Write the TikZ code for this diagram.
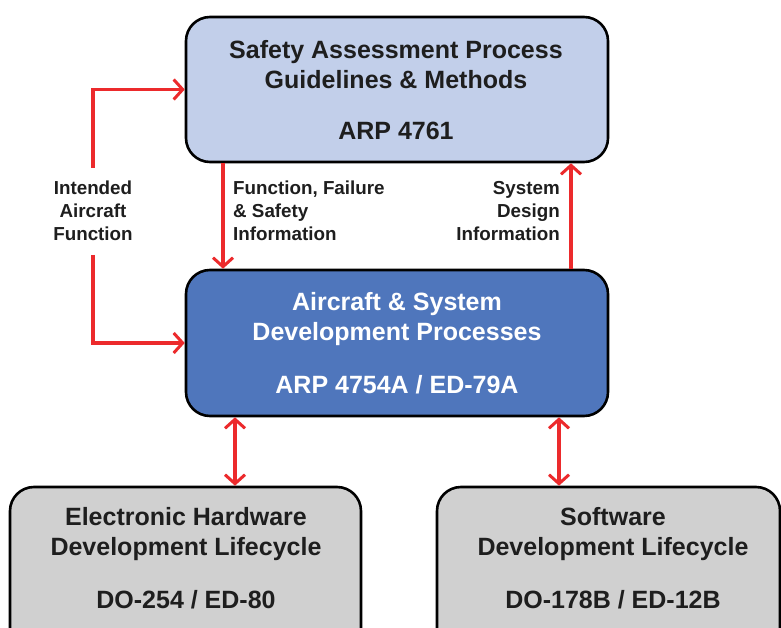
\documentclass[tikz,border=0pt]{standalone}
\usepackage{fontspec}
\setmainfont{Liberation Sans}
\usetikzlibrary{arrows.meta}
\definecolor{boxlight}{HTML}{C2CFEA}
\definecolor{boxdark}{HTML}{4F76BC}
\definecolor{boxgray}{HTML}{D0D0D0}
\definecolor{arrowred}{HTML}{EC2A2C}
\definecolor{textdark}{HTML}{1E1E1E}
\tikzset{
  procbox/.style={draw=black, line width=2.6pt, rounded corners=24pt, inner sep=0pt},
  boxtitle/.style={font=\fontsize{25}{30}\selectfont\bfseries, align=center, inner sep=0pt},
  boxcode/.style={font=\fontsize{25}{30}\selectfont\bfseries, inner sep=0pt},
  flowlabel/.style={font=\fontsize{18.8}{23}\selectfont\bfseries, text=textdark, inner sep=0pt},
  redtip/.tip={Straight Barb[length=9pt, width=20pt, line width=3pt]},
  redarrow/.style={draw=arrowred, line width=3.4pt, -redtip},
  redboth/.style={draw=arrowred, line width=3.4pt, redtip-redtip},
}
\begin{document}
\begin{tikzpicture}[x=1pt, y=-1pt]
\useasboundingbox (0,0) rectangle (781,628);
\clip (0,0) rectangle (781,628);
\fill[white] (0,0) rectangle (781,628);
% boxes
\node[procbox, fill=boxlight, minimum width=422pt, minimum height=145pt] (sa) at (397,89.5) {};
\node[procbox, fill=boxdark, minimum width=422pt, minimum height=146pt] (asd) at (397,343) {};
\node[procbox, fill=boxgray, minimum width=351pt, minimum height=170pt] (hw) at (185.5,572) {};
\node[procbox, fill=boxgray, minimum width=343pt, minimum height=170pt] (sw) at (608.5,572) {};
% box texts
\node[boxtitle, text=textdark] (satitle) at (396,65) {Safety Assessment Process\\Guidelines \& Methods};
\node[boxcode, text=textdark] (sacode) at (396,131) {ARP 4761};
\node[boxtitle, text=white] (asdtitle) at (397,319) {Aircraft \& System\\Development Processes};
\node[boxcode, text=white] (asdcode) at (397,385) {ARP 4754A / ED-79A};
\node[boxtitle, text=textdark] (hwtitle) at (186,534.5) {Electronic Hardware\\Development Lifecycle};
\node[boxcode, text=textdark] (hwcode) at (186,600) {DO-254 / ED-80};
\node[boxtitle, text=textdark] (swtitle) at (613,534.5) {Software\\Development Lifecycle};
\node[boxcode, text=textdark] (swcode) at (613,600) {DO-178B / ED-12B};
% labels
\node[flowlabel, align=center] (iaf) at (93,211) {Intended\\Aircraft\\Function};
\node[flowlabel, align=left, anchor=west] (ffs) at (233,211) {Function, Failure\\\& Safety\\Information};
\node[flowlabel, align=right, anchor=east] (sdi) at (560,211) {System\\Design\\Information};
% helper coordinates
\coordinate (iaftop) at (93,168);
\coordinate (iafbot) at (93,255);
\coordinate (ffx) at (223,0);
\coordinate (sdx) at (571,0);
\coordinate (hwx) at (235,0);
\coordinate (swx) at (559,0);
% arrows
\draw[redarrow] (iaftop) |- (sa.west);
\draw[redarrow] (iafbot) |- (asd.west);
\draw[redarrow] (sa.south -| ffx) -- (asd.north -| ffx);
\draw[redarrow] (asd.north -| sdx) -- (sa.south -| sdx);
\draw[redboth] (asd.south -| hwx) -- (hw.north -| hwx);
\draw[redboth] (asd.south -| swx) -- (sw.north -| swx);
\end{tikzpicture}
\end{document}
